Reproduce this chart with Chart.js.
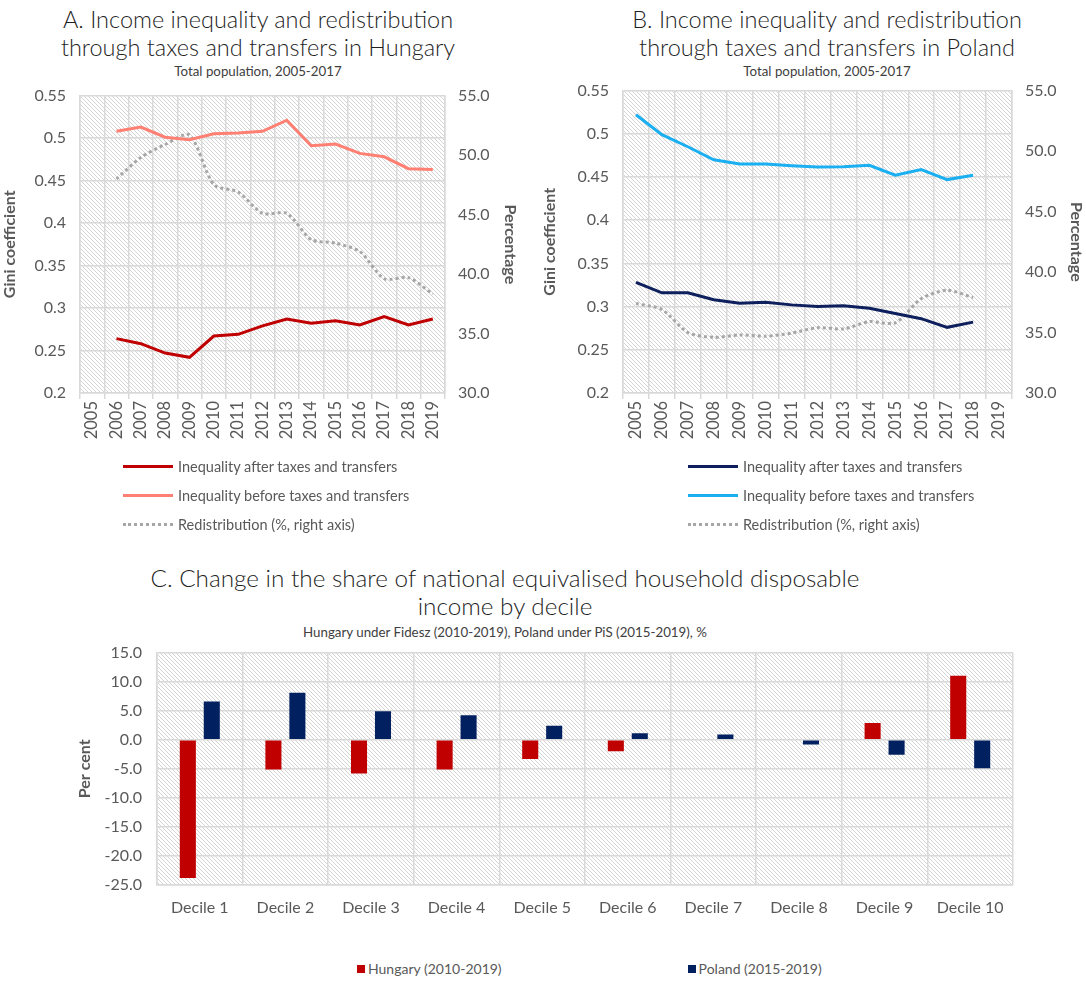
<!DOCTYPE html>
<html>
<head>
<meta charset="utf-8">
<script src="https://cdn.jsdelivr.net/npm/chart.js@4"></script>
<style>
  body { margin: 0; background: #fff; width: 1086px; height: 981px; position: relative; overflow: hidden; font-family: Lato, 'Liberation Sans', sans-serif; }
  .title { position: absolute; text-align: center; font-weight: 300; font-size: 23.5px; line-height: 28px; color: #1f1f1f; white-space: nowrap; }
  .sub { position: absolute; text-align: center; font-size: 13.3px; color: #404040; white-space: nowrap; }
  .box { position: absolute; }
  .legend { position: absolute; font-size: 14.5px; color: #595959; }
  .legend .row { height: 29px; display: flex; align-items: center; white-space: nowrap; }
  .legend .key { display: inline-block; width: 50px; margin-right: 5px; }
  .sq { display: inline-block; width: 8px; height: 8px; margin-right: 3px; }
</style>
</head>
<body>

<div class="title" style="left:0;width:516px;top:5px">A. Income inequality and redistribution<br>through taxes and transfers in Hungary</div>
<div class="sub" style="left:0;width:516px;top:63px">Total population, 2005-2017</div>
<div class="title" style="left:587px;width:480px;top:5px">B. Income inequality and redistribution<br>through taxes and transfers in Poland</div>
<div class="sub" style="left:587px;width:480px;top:63px">Total population, 2005-2017</div>

<div class="box" style="left:0;top:72px;width:520px;height:383px"><canvas id="chartA"></canvas></div>
<div class="box" style="left:540px;top:67px;width:546px;height:388px"><canvas id="chartB"></canvas></div>

<div class="legend" id="legendA" style="left:123px;top:452px"></div>
<div class="legend" id="legendB" style="left:688px;top:452px"></div>

<div class="title" style="left:105px;width:800px;top:564px;font-size:24.3px">C. Change in the share of national equivalised household disposable<br>income by decile</div>
<div class="sub" style="left:105px;width:800px;top:624px">Hungary under Fidesz (2010-2019), Poland under PiS (2015-2019), %</div>

<div class="box" style="left:75px;top:628px;width:1011px;height:297px"><canvas id="chartC"></canvas></div>

<div class="legend" id="legendC" style="left:357px;top:954px;width:600px;font-size:14px"></div>

<script>
// ---- data ----
const years = ['2005', '2006', '2007', '2008', '2009', '2010', '2011', '2012', '2013', '2014', '2015', '2016', '2017', '2018', '2019']

const huAfter = [null, 0.264, 0.258, 0.247, 0.242, 0.267, 0.269, 0.279, 0.287, 0.282, 0.285, 0.280, 0.290, 0.280, 0.287]
const huBefore = [null, 0.508, 0.513, 0.501, 0.498, 0.505, 0.506, 0.508, 0.521, 0.491, 0.493, 0.482, 0.478, 0.464, 0.463]
const huRedis = [null, 48.0, 49.8, 50.9, 51.7, 47.5, 46.9, 45.1, 45.1, 42.9, 42.6, 41.9, 39.6, 39.7, 38.3]

const plAfter = [0.328, 0.316, 0.316, 0.308, 0.304, 0.305, 0.302, 0.300, 0.301, 0.298, 0.292, 0.286, 0.276, 0.282, null]
const plBefore = [0.522, 0.499, 0.485, 0.470, 0.465, 0.465, 0.463, 0.4615, 0.462, 0.4635, 0.452, 0.4585, 0.447, 0.452, null]
const plRedis = [37.4, 36.9, 35.0, 34.6, 34.8, 34.7, 34.95, 35.4, 35.3, 35.9, 35.8, 37.8, 38.5, 37.9, null]

const giniTicks = [0.2, 0.25, 0.3, 0.35, 0.4, 0.45, 0.5, 0.55]
const pctTicks = [30, 35, 40, 45, 50, 55]

const deciles = ['Decile 1', 'Decile 2', 'Decile 3', 'Decile 4', 'Decile 5', 'Decile 6', 'Decile 7', 'Decile 8', 'Decile 9', 'Decile 10']
const huDecile = [-23.8, -5.1, -5.8, -5.1, -3.3, -2.0, 0, 0, 2.9, 11.0]
const plDecile = [6.6, 8.1, 4.9, 4.2, 2.4, 1.1, 0.9, -0.8, -2.6, -4.9]
const shareTicks = [-25, -20, -15, -10, -5, 0, 5, 10, 15]

const seriesLabels = ['Inequality after taxes and transfers', 'Inequality before taxes and transfers', 'Redistribution (%, right axis)']
const barLabels = ['Hungary (2010-2019)', 'Poland (2015-2019)']

// ---- styling ----
const grey = '#595959'
const gridColor = '#d9d9d9'
const fontFamily = "Lato, 'Liberation Sans', sans-serif"

// fine diagonal hatch (one grey pixel per row, 4px period) for the plot area
const tile = document.createElement('canvas')
tile.width = 4
tile.height = 4
const tctx = tile.getContext('2d')
tctx.fillStyle = '#ffffff'
tctx.fillRect(0, 0, 4, 4)
tctx.fillStyle = '#d4d4d4'
for (let i = 0; i < 4; i++) tctx.fillRect(i, i, 1, 1)

const hatch = {
    id: 'hatch',
    beforeDraw(chart) {
        const { ctx, chartArea: a } = chart
        ctx.save()
        ctx.fillStyle = ctx.createPattern(tile, 'repeat')
        ctx.fillRect(a.left, a.top, a.width, a.height)
        ctx.restore()
    }
}

function fixedTicks(values) {
    return scale => { scale.ticks = values.map(v => ({ value: v })) }
}

function lineChart(id, after, before, redis, colAfter, colBefore, leftW, rightW) {
    return new Chart(document.getElementById(id), {
        type: 'line',
        data: {
            labels: years,
            datasets: [
                { label: seriesLabels[0], data: after, borderColor: colAfter, backgroundColor: colAfter, borderWidth: 3, pointRadius: 0, yAxisID: 'y' },
                { label: seriesLabels[1], data: before, borderColor: colBefore, backgroundColor: colBefore, borderWidth: 3, pointRadius: 0, yAxisID: 'y' },
                { label: seriesLabels[2], data: redis, borderColor: '#a6a6a6', backgroundColor: '#a6a6a6', borderWidth: 3, borderDash: [3, 3], pointRadius: 0, tension: 0.25, yAxisID: 'y1' },
            ],
        },
        options: {
            responsive: true,
            maintainAspectRatio: false,
            animation: false,
            layout: { padding: { top: 10 } },
            plugins: { legend: { display: false }, tooltip: { enabled: false } },
            scales: {
                x: {
                    offset: true,
                    grid: { offset: true, color: gridColor, lineWidth: 1.5, tickLength: 6 },
                    border: { color: gridColor, width: 1.5 },
                    ticks: { color: grey, font: { family: fontFamily, size: 16.5 }, minRotation: 90, maxRotation: 90, autoSkip: false, padding: 2 },
                    afterFit: s => { s.height = 62 },
                },
                y: {
                    position: 'left',
                    min: 0.2, max: 0.55,
                    afterBuildTicks: fixedTicks(giniTicks),
                    grid: { color: gridColor, lineWidth: 1.5, drawTicks: false },
                    border: { color: gridColor, width: 1.5 },
                    ticks: { color: grey, font: { family: fontFamily, size: 16 }, padding: 14, callback: v => String(Math.round(v * 100) / 100) },
                    title: { display: true, text: 'Gini coefficient', color: grey, font: { family: fontFamily, size: 16, weight: 'bold' }, padding: 0 },
                    afterFit: s => { s.width = leftW },
                },
                y1: {
                    position: 'right',
                    min: 30, max: 55,
                    afterBuildTicks: fixedTicks(pctTicks),
                    grid: { display: false, drawTicks: false },
                    border: { color: gridColor, width: 1.5 },
                    ticks: { color: grey, font: { family: fontFamily, size: 16 }, padding: 13, callback: v => v.toFixed(1) },
                    title: { display: true, text: 'Percentage', color: grey, font: { family: fontFamily, size: 16, weight: 'bold' }, padding: 0 },
                    afterFit: s => { s.width = rightW },
                },
            },
        },
        plugins: [hatch],
    })
}

const chartA = lineChart('chartA', huAfter, huBefore, huRedis, '#c00000', '#ff8073', 80, 75)
const chartB = lineChart('chartB', plAfter, plBefore, plRedis, '#0d1f5c', '#1aaff0', 83, 74)

new Chart(document.getElementById('chartC'), {
    type: 'bar',
    data: {
        labels: deciles,
        datasets: [
            { label: barLabels[0], data: huDecile, backgroundColor: '#c00000', categoryPercentage: 0.56, barPercentage: 0.67 },
            { label: barLabels[1], data: plDecile, backgroundColor: '#002060', categoryPercentage: 0.56, barPercentage: 0.67 },
        ],
    },
    options: {
        responsive: true,
        maintainAspectRatio: false,
        animation: false,
        layout: { padding: { top: 0, right: 73 } },
        plugins: { legend: { display: false }, tooltip: { enabled: false } },
        scales: {
            x: {
                grid: { offset: true, color: gridColor, lineWidth: 1.5, drawTicks: false },
                border: { color: gridColor, width: 1.5 },
                ticks: { color: grey, font: { family: fontFamily, size: 16 }, padding: 13 },
                afterFit: s => { s.height = 40 },
            },
            y: {
                min: -25, max: 15,
                afterBuildTicks: fixedTicks(shareTicks),
                grid: { color: gridColor, lineWidth: 1.5, drawTicks: false },
                border: { color: gridColor, width: 1.5 },
                ticks: { color: grey, font: { family: fontFamily, size: 16 }, padding: 15, callback: v => v.toFixed(1) },
                title: { display: true, text: 'Per cent', color: grey, font: { family: fontFamily, size: 16, weight: 'bold' }, padding: 0 },
                afterFit: s => { s.width = 82 },
            },
        },
    },
    plugins: [hatch],
})

// ---- HTML legends built from the chart datasets ----
function lineLegend(el, chart) {
    el.innerHTML = chart.data.datasets.map(ds => {
        const key = ds.borderDash
            ? `<span class="key" style="border-top:3px dotted ${ds.borderColor};height:0"></span>`
            : `<span class="key" style="background:${ds.borderColor};height:3px"></span>`
        return `<div class="row">${key}${ds.label}</div>`
    }).join('')
}
lineLegend(document.getElementById('legendA'), chartA)
lineLegend(document.getElementById('legendB'), chartB)

document.getElementById('legendC').innerHTML =
    `<div class="row"><span class="sq" style="background:#c00000"></span>${barLabels[0]}` +
    `<span style="display:inline-block;width:186px"></span>` +
    `<span class="sq" style="background:#002060"></span>${barLabels[1]}</div>`
</script>
</body>
</html>
